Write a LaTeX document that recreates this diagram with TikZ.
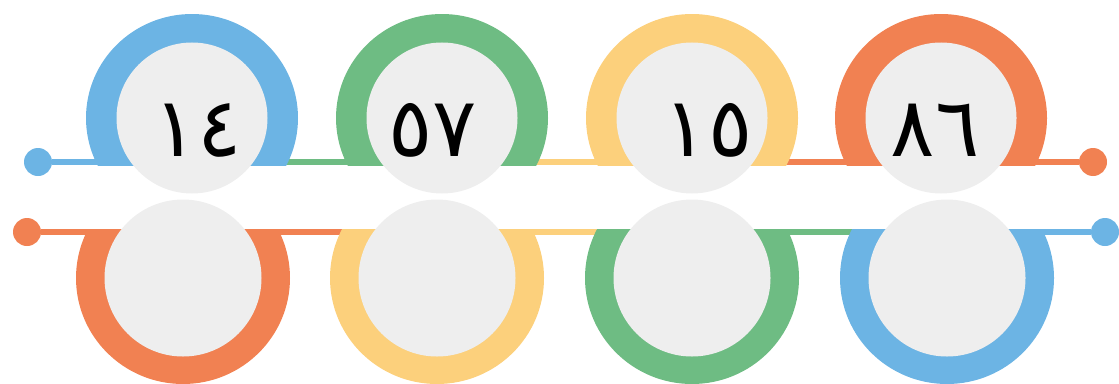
\documentclass[tikz,border=0pt]{standalone}
\usepackage{fontspec}
\newfontfamily\numfont[Script=Arabic]{DejaVu Sans}
\definecolor{ringblue}{RGB}{108,180,228}
\definecolor{ringgreen}{RGB}{110,188,131}
\definecolor{ringyellow}{RGB}{252,208,124}
\definecolor{ringorange}{RGB}{241,129,82}
\definecolor{discgrey}{RGB}{238,238,238}

\begin{document}
\begin{tikzpicture}[x=0.2mm,y=-0.2mm,
    seg/.style={line width=1.2mm},
    knob/.style={circle,inner sep=0pt,minimum size=5.6mm},
    topdisc/.style={circle,fill=discgrey,inner sep=0pt,minimum size=30.2mm},
    botdisc/.style={circle,fill=discgrey,inner sep=0pt,minimum size=31.4mm},
    num/.style={inner sep=0pt,font=\numfont\fontsize{47}{47}\selectfont}]
  \useasboundingbox (0,0) rectangle (1119,383);

  \coordinate (ra) at (192,118);
  \coordinate (rb) at (442,118);
  \coordinate (rc) at (692,118);
  \coordinate (rd) at (941,118);
  \coordinate (ta) at (192,162);
  \coordinate (tb) at (442,162);
  \coordinate (tc) at (692,162);
  \coordinate (sa) at (183,278);
  \coordinate (sb) at (437,278);
  \coordinate (sc) at (692,278);
  \coordinate (sd) at (947,278);
  \coordinate (ba) at (183,232);
  \coordinate (bb) at (437,232);
  \coordinate (bc) at (692,232);
  \coordinate (bd) at (947,232);

  \node (tl) [knob,fill=ringblue] at (38,162) {};
  \node (tr) [knob,fill=ringorange] at (1093,162) {};
  \node (bl) [knob,fill=ringorange] at (27,232) {};
  \node (br) [knob,fill=ringblue] at (1105,232) {};

  \draw[seg,ringblue] (tl) -- (ta);
  \draw[seg,ringgreen] (ta) -- (tb);
  \draw[seg,ringyellow] (tb) -- (tc);
  \draw[seg,ringorange] (tc) -- (tr);
  \draw[seg,ringorange] (bl) -- (bb);
  \draw[seg,ringyellow] (bb) -- (bc);
  \draw[seg,ringgreen] (bc) -- (bd);
  \draw[seg,ringblue] (bd) -- (br);

  \begin{scope}
    \clip (0,0) rectangle (1119,165);
    \fill[ringblue] (ra) ellipse [x radius=106,y radius=104];
    \fill[ringgreen] (rb) ellipse [x radius=106,y radius=104];
    \fill[ringyellow] (rc) ellipse [x radius=106,y radius=104];
    \fill[ringorange] (rd) ellipse [x radius=106,y radius=104];
  \end{scope}
  \begin{scope}
    \clip (0,229) rectangle (1119,400);
    \fill[ringorange] (sa) ellipse [x radius=107,y radius=106];
    \fill[ringyellow] (sb) ellipse [x radius=107,y radius=106];
    \fill[ringgreen] (sc) ellipse [x radius=107,y radius=106];
    \fill[ringblue] (sd) ellipse [x radius=107,y radius=106];
  \end{scope}

  \node (ga) [topdisc] at (ra) {};
  \node (gb) [topdisc] at (rb) {};
  \node (gc) [topdisc] at (rc) {};
  \node (gd) [topdisc] at (rd) {};
  \node (ha) [botdisc] at (sa) {};
  \node (hb) [botdisc] at (sb) {};
  \node (hc) [botdisc] at (sc) {};
  \node (hd) [botdisc] at (sd) {};

  \node (na) [num] at (198,130) {١٤};
  \node (nb) [num] at (433,130) {٥٧};
  \node (nc) [num] at (708,130) {١٥};
  \node (nd) [num] at (935,130) {٨٦};
\end{tikzpicture}
\end{document}
